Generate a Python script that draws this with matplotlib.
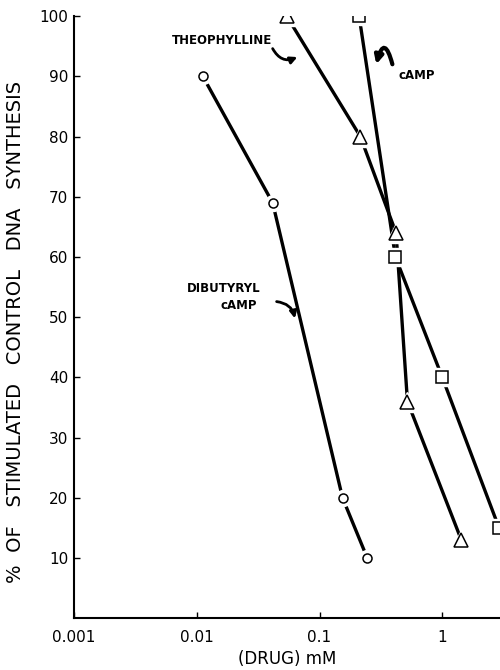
import numpy as np
from matplotlib import pyplot as plt

## data
dibutyryl_x = [0.0112, 0.0415, 0.154, 0.245]
dibutyryl_y = [90, 69, 20, 10]
theo_x = [0.054, 0.215, 0.42, 0.52, 1.43]
theo_y = [100, 80, 64, 36, 13]
camp_x = [0.21, 0.415, 1.0, 2.9]
camp_y = [100, 60, 40, 15]

xticks = [0.001, 0.01, 0.1, 1]
xtick_labels = ['0.001', '0.01', '0.1', '1']
yticks = [10, 20, 30, 40, 50, 60, 70, 80, 90, 100]

plt.rcParams['font.family'] = ['DejaVu Sans']

fig = plt.figure(figsize=(5, 6.7), dpi=100)
ax = fig.add_axes([0.148, 0.077, 0.852, 0.899])

series = [(dibutyryl_x, dibutyryl_y, 'o', 6.5),
          (theo_x, theo_y, '^', 9.5),
          (camp_x, camp_y, 's', 8)]

## line first, then white blob to open a gap, then the open marker
for xs, ys, m, ms in series:
    ax.plot(xs, ys, color='black', lw=2.4, solid_capstyle='butt', zorder=2)
    ax.plot(xs, ys, ls='none', marker=m, ms=ms + 5, mfc='white', mec='white', zorder=3)
    ax.plot(xs, ys, ls='none', marker=m, ms=ms, mfc='white', mec='black', mew=1.1, zorder=4)

ax.set_xscale('log')
ax.set_xlim(0.001, 2.95)
ax.set_ylim(0, 100)
ax.set_xticks(xticks)
ax.set_xticklabels(xtick_labels)
ax.minorticks_off()
ax.set_yticks(yticks)

ax.spines['top'].set_visible(False)
ax.spines['right'].set_visible(False)
ax.spines['left'].set_linewidth(1.5)
ax.spines['bottom'].set_linewidth(1.5)
ax.tick_params(axis='y', direction='in', length=4, width=1, labelsize=11, pad=4)
ax.tick_params(axis='x', direction='in', length=4, width=1, labelsize=11, pad=8)

ax.set_ylabel('%  OF   STIMULATED   CONTROL   DNA   SYNTHESIS', fontsize=14)
ax.yaxis.set_label_coords(-0.115, 0.475)
ax.set_xlabel('(DRUG) mM', fontsize=12, labelpad=4)

## labels with curved arrows
arrow_kw = dict(arrowstyle='-|>', lw=2, color='black', mutation_scale=10,
                shrinkA=0, shrinkB=0)
ax.text(0.0063, 96.0, 'THEOPHYLLINE', fontsize=8.5, fontweight='bold', ha='left', va='center')
ax.annotate('', xy=(0.066, 93.2), xytext=(0.0415, 94.6),
            arrowprops=dict(connectionstyle='arc3,rad=0.45', **arrow_kw))
ax.text(0.44, 90.2, 'cAMP', fontsize=8.5, fontweight='bold', ha='left', va='center')
ax.annotate('', xy=(0.29, 92.0), xytext=(0.392, 92.0),
            arrowprops=dict(arrowstyle='-|>', lw=3, color='black', mutation_scale=12,
                            shrinkA=0, shrinkB=0, connectionstyle='arc3,rad=1.9'))
ax.text(0.0083, 54.7, 'DIBUTYRYL', fontsize=8.5, fontweight='bold', ha='left', va='center')
ax.text(0.0157, 51.9, 'cAMP', fontsize=8.5, fontweight='bold', ha='left', va='center')
ax.annotate('', xy=(0.063, 49.8), xytext=(0.0447, 52.6),
            arrowprops=dict(connectionstyle='arc3,rad=-0.35', **arrow_kw))

plt.savefig('out.png', dpi=100)
